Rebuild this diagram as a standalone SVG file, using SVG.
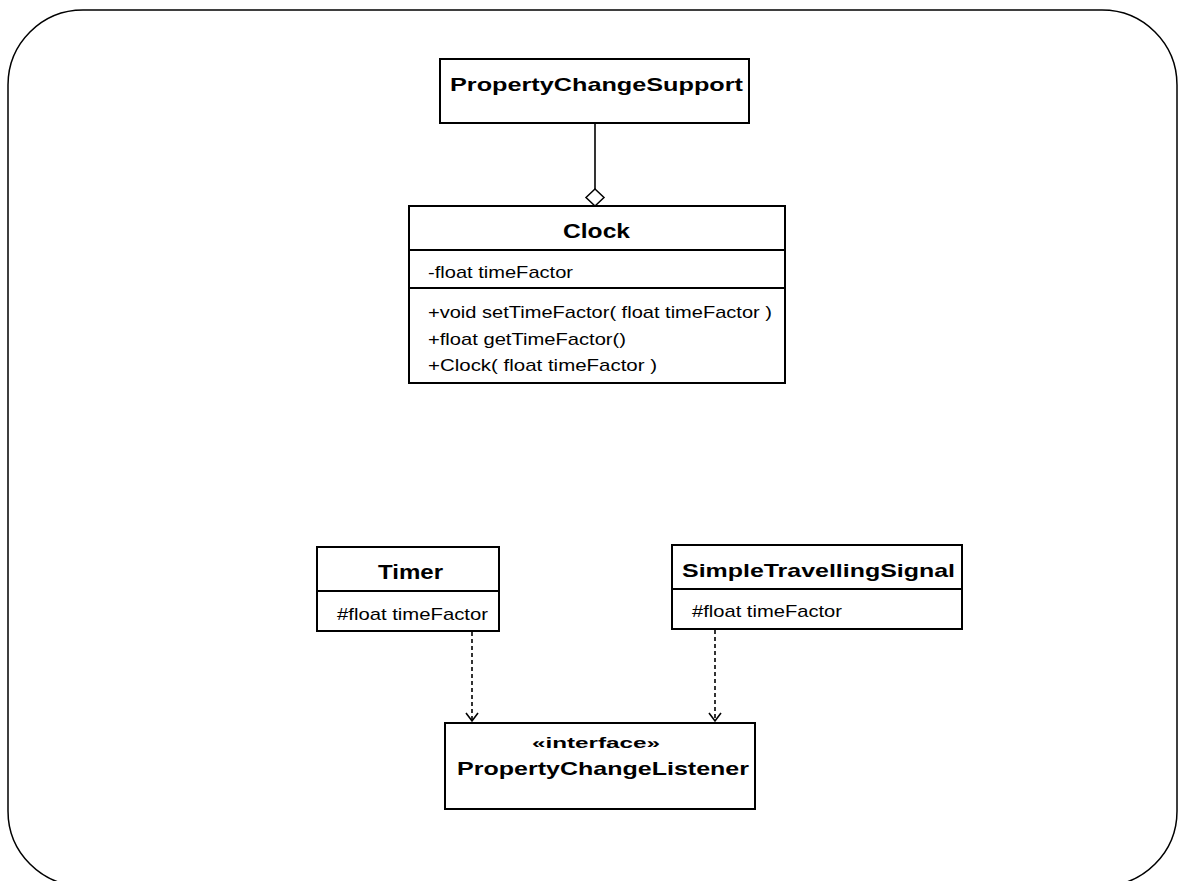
<svg xmlns="http://www.w3.org/2000/svg" width="1178" height="881" viewBox="0 0 1178 881">
<style>
.box{fill:#fff;stroke:#000;stroke-width:2}
.div{stroke:#000;stroke-width:2}
.title{font-family:"Liberation Sans",Arial,sans-serif;font-weight:bold;font-size:19px;fill:#000}
.body{font-family:"Liberation Sans",Arial,sans-serif;font-size:17px;fill:#000}
.ster{font-family:"Liberation Sans",Arial,sans-serif;font-weight:bold;font-size:15px;fill:#000}
.conn{fill:none;stroke:#000;stroke-width:1.6}
.dash{stroke-dasharray:4 3}
</style>
<rect x="8" y="10" width="1169" height="876" rx="75" ry="75" fill="#fff" stroke="#000" stroke-width="1.5"/>
<g id="connectors">
<line class="conn" x1="595" y1="123" x2="595" y2="190"/>
<polygon points="595,189 604,197.5 595,206 586,197.5" fill="#fff" stroke="#000" stroke-width="1.5"/>
<line class="conn dash" x1="472" y1="632" x2="472" y2="720"/>
<polyline class="conn" points="466,713 472,721 478,713"/>
<line class="conn dash" x1="715" y1="630" x2="715" y2="720"/>
<polyline class="conn" points="709,713 715,721 721,713"/>
</g>
<g id="PropertyChangeSupport">
<rect class="box" x="440" y="59" width="309" height="64"/>
<text class="title" x="450" y="91" textLength="293" lengthAdjust="spacingAndGlyphs">PropertyChangeSupport</text>
</g>
<g id="Clock">
<rect class="box" x="409" y="206" width="376" height="177"/>
<line class="div" x1="409" y1="250" x2="785" y2="250"/>
<line class="div" x1="409" y1="288" x2="785" y2="288"/>
<text class="title" x="563" y="238" textLength="67" lengthAdjust="spacingAndGlyphs" style="font-size:21px">Clock</text>
<text class="body" x="428" y="278" textLength="145" lengthAdjust="spacingAndGlyphs">-float timeFactor</text>
<text class="body" x="428" y="318" textLength="344" lengthAdjust="spacingAndGlyphs">+void setTimeFactor( float timeFactor )</text>
<text class="body" x="428" y="345" textLength="198" lengthAdjust="spacingAndGlyphs">+float getTimeFactor()</text>
<text class="body" x="428" y="371" textLength="229" lengthAdjust="spacingAndGlyphs">+Clock( float timeFactor )</text>
</g>
<g id="Timer">
<rect class="box" x="317" y="547" width="182" height="84"/>
<line class="div" x1="317" y1="591" x2="499" y2="591"/>
<text class="title" x="378" y="579" textLength="65" lengthAdjust="spacingAndGlyphs" style="font-size:21px">Timer</text>
<text class="body" x="337" y="620" textLength="151" lengthAdjust="spacingAndGlyphs">#float timeFactor</text>
</g>
<g id="SimpleTravellingSignal">
<rect class="box" x="672" y="545" width="290" height="84"/>
<line class="div" x1="672" y1="589" x2="962" y2="589"/>
<text class="title" x="682" y="577" textLength="273" lengthAdjust="spacingAndGlyphs">SimpleTravellingSignal</text>
<text class="body" x="692" y="617" textLength="150" lengthAdjust="spacingAndGlyphs">#float timeFactor</text>
</g>
<g id="PropertyChangeListener">
<rect class="box" x="445" y="723" width="310" height="86"/>
<text class="ster" x="532" y="748" textLength="128" lengthAdjust="spacingAndGlyphs">«interface»</text>
<text class="title" x="457" y="775" textLength="292" lengthAdjust="spacingAndGlyphs">PropertyChangeListener</text>
</g>
</svg>
